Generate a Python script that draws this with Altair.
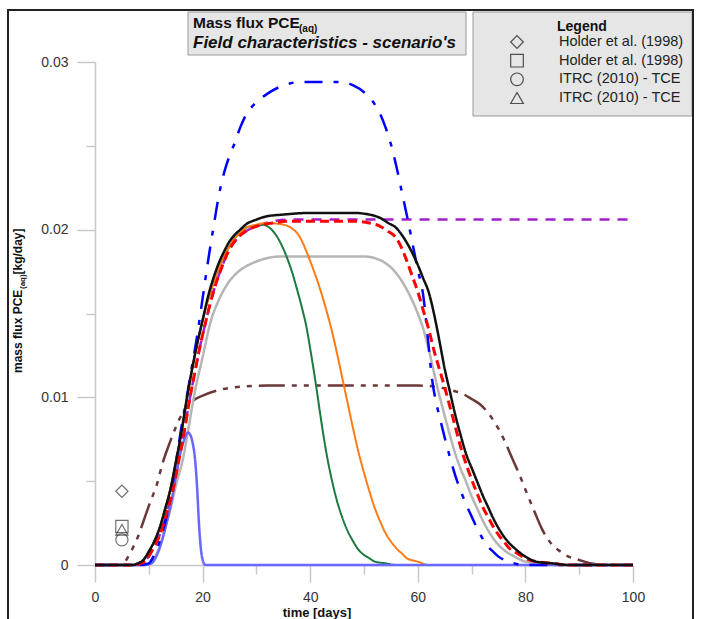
import altair as alt
import pandas as pd

# ---------------- data ----------------
black_day = [0, 7, 8, 9, 10, 11, 12, 13, 14, 15, 16, 17, 18, 19, 20, 21, 22, 23, 24, 25, 26, 27, 28,
             30, 32, 35, 40, 48, 51, 53, 54.5, 56, 57, 58, 59, 60, 61, 62, 63, 64, 65, 66, 67, 68, 69,
             70, 71, 72, 73, 74, 75, 76, 77, 78, 80, 82, 85, 88, 100]
black_val = [0, 0, 0.0001, 0.0003, 0.0008, 0.0014, 0.0022, 0.0033, 0.0045, 0.0061, 0.0078, 0.0098,
             0.0116, 0.0132, 0.0146, 0.016, 0.0171, 0.018, 0.0187, 0.0193, 0.0197, 0.02, 0.0203,
             0.0206, 0.0208, 0.0209, 0.021, 0.021, 0.0209, 0.0207, 0.0204, 0.0201, 0.0197, 0.0192,
             0.0186, 0.0179, 0.0171, 0.0163, 0.015, 0.0134, 0.0117, 0.0103, 0.0089, 0.0077, 0.0066,
             0.0058, 0.005, 0.0042, 0.0035, 0.0028, 0.0022, 0.0017, 0.0013, 0.001, 0.0005, 0.0002,
             0.0001, 0, 0]

red_day = [0, 7.5, 8.5, 9.5, 10.5, 11.5, 12.5, 13.5, 14.5, 15.5, 16.5, 17.5, 18.5, 19.5, 20.5, 21.5,
           22.5, 23.5, 24.5, 25.5, 26.5, 28, 30, 33, 36, 48, 51, 53, 54.5, 56, 57, 58, 59, 60, 61, 62,
           63, 64, 65, 66, 67, 68, 69, 70, 71, 72, 73, 74, 75, 76, 77, 78, 80, 82, 85, 88, 100]
red_val = [0, 0, 0.0001, 0.0003, 0.0008, 0.0014, 0.0022, 0.0033, 0.0045, 0.0061, 0.0078, 0.0097,
           0.0114, 0.013, 0.0144, 0.0157, 0.0168, 0.0177, 0.0185, 0.0191, 0.0195, 0.0199, 0.0202,
           0.0204, 0.0205, 0.0205, 0.0204, 0.0202, 0.0199, 0.0195, 0.0189, 0.0181, 0.0172, 0.0163,
           0.0152, 0.0141, 0.0128, 0.0117, 0.0106, 0.0094, 0.0082, 0.007, 0.006, 0.0051, 0.0043,
           0.0035, 0.0029, 0.0023, 0.0018, 0.0014, 0.001, 0.0008, 0.0004, 0.0002, 0.0001, 0, 0]

purple_day = [0, 7.5, 8.5, 9.5, 10.5, 11.5, 12.5, 13.5, 14.5, 15.5, 16.5, 17.5, 18.5, 19.5, 20.5,
              21.5, 22.5, 23.5, 24.5, 25.5, 26.5, 28, 30, 33, 36, 100]
purple_val = [0, 0, 0.0001, 0.0003, 0.0008, 0.0014, 0.0022, 0.0033, 0.0045, 0.0061, 0.0078, 0.0097,
              0.0114, 0.013, 0.0144, 0.0157, 0.0168, 0.0177, 0.0185, 0.0191, 0.0195, 0.0199,
              0.0202, 0.0205, 0.0206, 0.0206]

green_day = [0, 7, 8, 9, 10, 11, 12, 13, 14, 15, 16, 17, 18, 19, 20, 21, 22, 23, 24, 25, 26, 27, 28,
             29, 31, 32.5, 34, 35.6, 36.5, 37.5, 38.5, 39.3, 40, 41, 42, 43, 44, 45, 46, 47, 48, 49,
             50, 51, 52, 54, 56, 100]
green_val = [0, 0, 0.0001, 0.0003, 0.0008, 0.0014, 0.0022, 0.0033, 0.0045, 0.0061, 0.0078, 0.0098,
             0.0116, 0.0132, 0.0146, 0.0158, 0.0168, 0.0177, 0.0184, 0.019, 0.0195, 0.0198, 0.0201,
             0.0202, 0.0203, 0.0201, 0.0195, 0.0184, 0.0176, 0.0165, 0.0153, 0.0142, 0.0129,
             0.0109, 0.0087, 0.0067, 0.0051, 0.0038, 0.0028, 0.002, 0.0014, 0.0009, 0.0006, 0.0004,
             0.0002, 0.0001, 0, 0]

orange_day = [0, 7, 8, 9, 10, 11, 12, 13, 14, 15, 16, 17, 18, 19, 20, 21, 22, 23, 24, 25, 26, 27, 28,
              30, 32, 35, 36.5, 38, 39.3, 40.5, 41.8, 43, 44, 45, 46, 47, 48, 49, 50, 51, 52, 53, 54,
              55, 56, 57, 58, 60, 62, 100]
orange_val = [0, 0, 0.0001, 0.0003, 0.0008, 0.0014, 0.0022, 0.0033, 0.0045, 0.0061, 0.0078, 0.0098,
              0.0116, 0.0132, 0.0146, 0.0158, 0.0168, 0.0177, 0.0184, 0.019, 0.0195, 0.0198,
              0.0201, 0.0203, 0.0204, 0.0203, 0.0201, 0.0196, 0.0187, 0.0177, 0.0165, 0.0152,
              0.014, 0.0126, 0.0111, 0.0096, 0.0081, 0.0067, 0.0055, 0.0044, 0.0034, 0.0026,
              0.0019, 0.0014, 0.001, 0.0007, 0.0004, 0.0002, 0, 0]

grey_day = [0, 9, 10.2, 11, 12, 13.3, 14, 15, 16.4, 17.5, 18.6, 20, 21.4, 23, 24.5, 26.3, 28, 30, 32,
            34.4, 40, 50, 52, 54, 56, 58, 60, 61, 62, 63, 64.1, 65, 66, 67, 68, 68.8, 70, 71, 72,
            73, 74, 75, 76, 78, 80, 83, 86, 100]
grey_val = [0, 0, 0.0001, 0.0004, 0.0011, 0.0025, 0.0033, 0.0047, 0.0064, 0.0084, 0.0104, 0.0124,
            0.0144, 0.0158, 0.0167, 0.0174, 0.0178, 0.0181, 0.0183, 0.0184, 0.0184, 0.0184, 0.0183,
            0.018, 0.0174, 0.0164, 0.015, 0.0141, 0.0129, 0.0115, 0.01, 0.0089, 0.0077, 0.0066,
            0.0057, 0.0051, 0.0041, 0.0034, 0.0027, 0.0021, 0.0016, 0.0012, 0.0009, 0.0005,
            0.0002, 0.0001, 0, 0]

blue_day = [0, 8, 10, 11, 12, 13, 14, 15, 16, 17, 18, 19, 20, 21, 22, 23, 24, 25, 26, 27, 28, 30, 32,
            35, 38, 42, 46, 48, 50, 51.5, 53, 54, 55, 56, 57, 58, 59, 60, 61, 62, 62.6, 63.2, 64, 65,
            66, 67, 68, 69, 70, 71, 72, 73, 74, 75, 77, 80, 100]
blue_val = [0, 0, 0.0001, 0.0006, 0.0014, 0.0025, 0.004, 0.006, 0.0081, 0.0099, 0.0118, 0.0137,
            0.0159, 0.0181, 0.0201, 0.022, 0.0234, 0.0244, 0.0252, 0.0261, 0.0268, 0.0276, 0.0281,
            0.0286, 0.0288, 0.0288, 0.0288, 0.0286, 0.0282, 0.0277, 0.0269, 0.0261, 0.0251, 0.0238,
            0.0223, 0.0208, 0.0192, 0.0176, 0.0161, 0.0131, 0.0112, 0.01, 0.0089, 0.0076, 0.0064,
            0.0053, 0.0044, 0.0036, 0.0029, 0.0022, 0.0016, 0.0011, 0.0008, 0.0005, 0.0002, 0, 0]

lightblue_day = [0, 9, 10.5, 11.5, 12.5, 13.3, 14.5, 15.5, 16.5, 17.3, 17.8, 18.2, 18.6, 19, 19.3,
                 19.7, 20.1, 20.5, 100]
lightblue_val = [0, 0, 0.0001, 0.0006, 0.0015, 0.0025, 0.0043, 0.0062, 0.0074, 0.0079, 0.0077,
                 0.0072, 0.0063, 0.0045, 0.0026, 0.0009, 0.0002, 0, 0]

brown_day = [0, 5, 6, 7, 8, 9, 10.2, 11.5, 12.5, 13.9, 15, 16, 17, 18.2, 20, 22.6, 26, 32, 60, 64,
             66.5, 68.4, 70, 71.5, 73, 74.5, 76, 77.5, 79, 80.5, 81.8, 83, 85, 86.5, 88, 90, 92,
             95, 100]
brown_val = [0, 0, 0.0004, 0.001, 0.0017, 0.0026, 0.0037, 0.0048, 0.006, 0.0073, 0.0082, 0.0089,
             0.0094, 0.0098, 0.0101, 0.0104, 0.0106, 0.0107, 0.0107, 0.0106, 0.0104, 0.0102,
             0.0099, 0.0096, 0.0091, 0.0084, 0.0075, 0.0064, 0.0053, 0.0041, 0.0031, 0.0022,
             0.0012, 0.0008, 0.0005, 0.0003, 0.0001, 0, 0]

marker_keys = ["Holder A", "Holder B", "ITRC A", "ITRC B"]
marker_labels = ["Holder et al. (1998)", "Holder et al. (1998)", "ITRC (2010) - TCE", "ITRC (2010) - TCE"]
marker_day = [5, 5, 5, 5]
marker_val = [0.0044, 0.0023, 0.0015, 0.0021]
legend_rows = [0, 1, 2, 3]

y_major = [0, 0.01, 0.02, 0.03]
y_minor = [0.005, 0.015, 0.025]
x_major = [0, 20, 40, 60, 80, 100]
x_minor = [10, 30, 50, 70, 90]

# ---------------- styles ----------------
series = [
    ("purple", purple_day, purple_val, "#a21fcf", [10, 8], 2.5),
    ("brown", brown_day, brown_val, "#6b3838", [26, 7, 5, 7, 5, 7, 5, 7], 2.5),
    ("grey", grey_day, grey_val, "#b5b5b5", [1, 0], 2.5),
    ("green", green_day, green_val, "#1d7a3e", [1, 0], 2),
    ("orange", orange_day, orange_val, "#ff7b16", [1, 0], 2),
    ("lightblue", lightblue_day, lightblue_val, "#6868ff", [1, 0], 2.5),
    ("blue", blue_day, blue_val, "#0000ff", [18, 11, 5, 11], 2.5),
    ("red", red_day, red_val, "#ff0000", [9, 5], 3),
    ("black", black_day, black_val, "#111111", [1, 0], 2.5),
]

FONT = "Liberation Sans"
W, H = 538, 503
PL, PT = 95, 62
AX = "#c8c8c8"


def px(v):
    return v - PL


def py(v):
    return v - PT


xscale = alt.Scale(domain=[0, 100], nice=False, zero=False)
yscale = alt.Scale(domain=[0, 0.03], nice=False)

common = dict(title=None, grid=False, labelFontSize=14, labelFont=FONT, labelColor="#333333",
              domainColor=AX, tickColor=AX, domainWidth=1.5, tickWidth=1.5, labelFlush=False)
xaxis = alt.Axis(values=x_major, tickSize=17, labelPadding=8, orient="bottom", **common)
yaxis = alt.Axis(values=y_major, tickSize=18, labelPadding=9, format="~g", orient="left", **common)
xaxis_minor = alt.Axis(values=x_minor, tickSize=9, labels=False, domain=False, orient="bottom", **common)
yaxis_minor = alt.Axis(values=y_minor, tickSize=9, labels=False, domain=False, orient="left", **common)

one = pd.DataFrame({"a": [0]})

layers = []

# curves
first = True
for name, d, v, col, dash, sw in series:
    df = pd.DataFrame({"day": d, "value": v})
    ch = alt.Chart(df).mark_line(color=col, strokeDash=dash, strokeWidth=sw,
                                 interpolate="monotone").encode(
        x=alt.X("day:Q", scale=xscale, axis=xaxis if first else None),
        y=alt.Y("value:Q", scale=yscale, axis=yaxis if first else None),
    )
    first = False
    layers.append(ch)

# observation markers (carry the minor tick axes)
mk = pd.DataFrame({"key": marker_keys, "day": marker_day, "value": marker_val})
shape_scale = alt.Scale(domain=marker_keys, range=["diamond", "square", "circle", "triangle-up"])
layers.append(alt.Chart(mk).mark_point(size=150, strokeWidth=1.2, color="#333333", filled=False).encode(
    x=alt.X("day:Q", scale=xscale, axis=xaxis_minor),
    y=alt.Y("value:Q", scale=yscale, axis=yaxis_minor),
    shape=alt.Shape("key:N", scale=shape_scale, legend=None),
))

# title box
layers.append(alt.Chart(one).mark_rect(fill="#e6e6e6", stroke="#999999", strokeWidth=1).encode(
    x=alt.value(px(188)), x2=alt.value(px(466)), y=alt.value(py(12)), y2=alt.value(py(55))))
layers.append(alt.Chart(one).mark_text(text="Mass flux PCE", font=FONT, fontSize=15.5, fontWeight="bold",
                                       align="left", baseline="alphabetic", color="#111111").encode(
    x=alt.value(px(193)), y=alt.value(py(28))))
layers.append(alt.Chart(one).mark_text(text="(aq)", font=FONT, fontSize=10, fontWeight="bold",
                                       align="left", baseline="alphabetic", color="#111111").encode(
    x=alt.value(px(299)), y=alt.value(py(32))))
layers.append(alt.Chart(one).mark_text(text="Field characteristics - scenario's", font=FONT, fontSize=17,
                                       fontWeight="bold", fontStyle="italic",
                                       align="left", baseline="alphabetic", color="#111111").encode(
    x=alt.value(px(193)), y=alt.value(py(48))))

# legend box
layers.append(alt.Chart(one).mark_rect(fill="#e6e6e6", stroke="#999999", strokeWidth=1).encode(
    x=alt.value(px(473)), x2=alt.value(px(692)), y=alt.value(py(12)), y2=alt.value(py(116))))
layers.append(alt.Chart(one).mark_text(text="Legend", font=FONT, fontSize=14, fontWeight="bold",
                                       align="left", baseline="alphabetic", color="#111111").encode(
    x=alt.value(px(557)), y=alt.value(py(31))))
lg = pd.DataFrame({"key": marker_keys, "label": marker_labels, "row": legend_rows})
row_scale = alt.Scale(domain=[0, 3], range=[0, 56])
layers.append(alt.Chart(lg).mark_point(size=160, strokeWidth=1.2, color="#111111", filled=False).encode(
    x=alt.value(px(517)), y=alt.value(py(42)),
    yOffset=alt.YOffset("row:Q", scale=row_scale),
    shape=alt.Shape("key:N", scale=shape_scale, legend=None),
))
layers.append(alt.Chart(lg).mark_text(font=FONT, fontSize=14.5, align="left", baseline="middle",
                                      color="#222222").encode(
    x=alt.value(px(559)), y=alt.value(py(42)),
    yOffset=alt.YOffset("row:Q", scale=row_scale),
    text="label:N",
))

# axis titles
layers.append(alt.Chart(one).mark_text(text="time [days]", font=FONT, fontSize=13, fontWeight="bold",
                                       align="center", baseline="alphabetic", color="#111111").encode(
    x=alt.value(px(317)), y=alt.value(py(617))))
layers.append(alt.Chart(one).mark_text(text="mass flux PCE", font=FONT, fontSize=12, fontWeight="bold",
                                       angle=270, align="left", baseline="alphabetic",
                                       color="#111111").encode(
    x=alt.value(px(22)), y=alt.value(py(373))))
layers.append(alt.Chart(one).mark_text(text="(aq)", font=FONT, fontSize=8, fontWeight="bold",
                                       angle=270, align="left", baseline="alphabetic",
                                       color="#111111").encode(
    x=alt.value(px(25)), y=alt.value(py(289))))
layers.append(alt.Chart(one).mark_text(text=" [kg/day]", font=FONT, fontSize=12, fontWeight="bold",
                                       angle=270, align="left", baseline="alphabetic",
                                       color="#111111").encode(
    x=alt.value(px(22)), y=alt.value(py(274.5))))

# outer frame (top, left, right edges), drawn last
FR = "#222222"
layers.append(alt.Chart(one).mark_rule(color=FR, strokeWidth=2).encode(
    x=alt.value(px(8)), x2=alt.value(px(693)), y=alt.value(py(10))))
layers.append(alt.Chart(one).mark_rule(color=FR, strokeWidth=2).encode(
    x=alt.value(px(8)), y=alt.value(py(9)), y2=alt.value(py(640))))
layers.append(alt.Chart(one).mark_rule(color=FR, strokeWidth=2).encode(
    x=alt.value(px(693)), y=alt.value(py(9)), y2=alt.value(py(640))))

chart = alt.layer(*layers).resolve_axis(x="independent", y="independent").properties(
    width=W, height=H,
    autosize=alt.AutoSizeParams(type="none"),
    padding={"left": PL, "top": PT, "right": 701 - PL - W, "bottom": 619 - PT - H},
    background="white",
).configure_view(stroke=None)

chart.save("out.html", embed_options={"renderer": "svg", "actions": False})
